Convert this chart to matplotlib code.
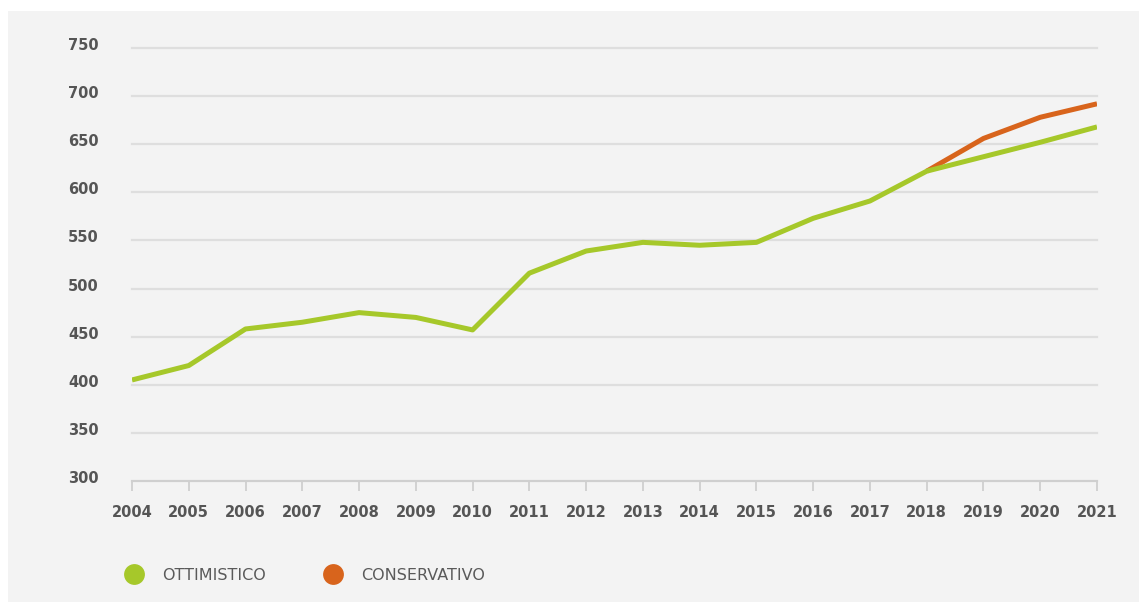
import matplotlib
matplotlib.use("Agg")
import matplotlib.pyplot as plt
import matplotlib.transforms as mtransforms
from matplotlib.lines import Line2D
from matplotlib.patches import Rectangle

# yearly values, two scenarios that split after 2018
years = list(range(2004, 2022))
ottimistico = [405, 420, 458, 465, 475, 470, 457, 516, 539, 548, 545, 548,
               573, 591, 622, 637, 652, 668]
conservativo_years = [2018, 2019, 2020, 2021]
conservativo = [622, 656, 678, 692]
y_ticks = [300, 350, 400, 450, 500, 550, 600, 650, 700, 750]

green = "#a6c82a"
orange = "#d8641c"
bg = "#f3f3f3"
grid_col = "#dedede"
text_col = "#555555"

fig = plt.figure(figsize=(11.39, 6.02), dpi=100)
fig.patch.set_facecolor("white")
# gray panel behind everything, leaving a thin white margin top/left
fig.patches.append(Rectangle((8 / 1139, 0), 1, (602 - 11) / 602,
                             transform=fig.transFigure, facecolor=bg,
                             edgecolor="none", zorder=-10))

ax = fig.add_axes([132 / 1139, (602 - 481) / 602,
                   (1097 - 132) / 1139, (481 - 48) / 602])
ax.set_facecolor(bg)
ax.patch.set_alpha(0)

ax.plot(conservativo_years, conservativo, color=orange, lw=3.6,
        solid_capstyle="butt", zorder=3)
ax.plot(years, ottimistico, color=green, lw=3.6,
        solid_capstyle="butt", zorder=4)

ax.set_xlim(2004, 2021)
ax.set_ylim(300, 750)
ax.set_xticks(years)
ax.set_yticks(y_ticks)

for v in y_ticks[1:]:
    ax.axhline(v, color=grid_col, lw=1.6, zorder=1, clip_on=False)

for s in ["top", "right", "left"]:
    ax.spines[s].set_visible(False)
ax.spines["bottom"].set_color("#cfcfcf")
ax.spines["bottom"].set_linewidth(1.6)

ax.tick_params(axis="x", length=7.5, width=1.3, color="#cfcfcf", pad=10,
               labelsize=10.5, labelcolor=text_col)
ax.tick_params(axis="y", length=0, pad=24, labelsize=10.5,
               labelcolor=text_col)
for lab in ax.get_xticklabels() + ax.get_yticklabels():
    lab.set_fontweight("bold")

# nudge the y labels up a little
offset = mtransforms.ScaledTranslation(0, 4 / 100, fig.dpi_scale_trans)
for lab in ax.get_yticklabels():
    lab.set_transform(lab.get_transform() + offset)

handles = [
    Line2D([], [], marker="o", linestyle="none", markersize=15,
           markerfacecolor=green, markeredgecolor="none", label="OTTIMISTICO"),
    Line2D([], [], marker="o", linestyle="none", markersize=15,
           markerfacecolor=orange, markeredgecolor="none", label="CONSERVATIVO"),
]
leg = fig.legend(handles=handles, loc="center left",
                 bbox_to_anchor=(126 / 1139, 1 - 575 / 602),
                 ncol=2, frameon=False, fontsize=11.5, handlelength=1.0,
                 handletextpad=1.25, columnspacing=3.7, borderpad=0,
                 borderaxespad=0)
for t in leg.get_texts():
    t.set_color("#5a5a5a")

fig.savefig("out.png", dpi=100, facecolor=fig.get_facecolor())
